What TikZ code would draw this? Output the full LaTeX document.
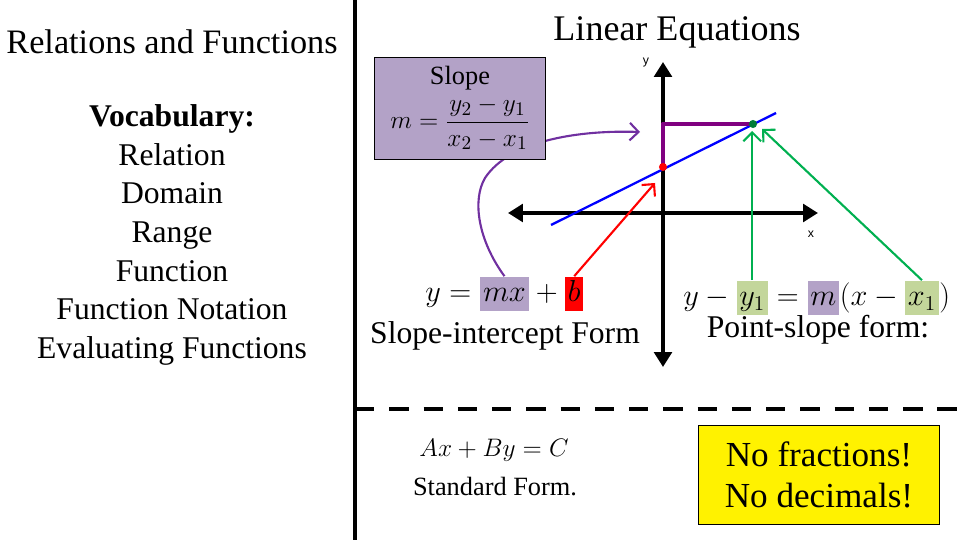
\documentclass[tikz,border=0pt]{standalone}
\usepackage{amsmath}
\usepackage{fontspec}
\setmainfont{Liberation Serif}
\newfontfamily\axisfont{Liberation Sans}
\usetikzlibrary{positioning,arrows.meta,backgrounds}
\definecolor{lavender}{HTML}{B3A2C7}
\definecolor{lightgreen}{HTML}{C3D69B}
\definecolor{slopepurple}{HTML}{7030A0}
\definecolor{anglepurple}{HTML}{800080}
\definecolor{arrowgreen}{HTML}{00B050}
\tikzset{
  txt/.style={inner sep=0pt, font=\fontsize{18}{22}\selectfont},
  eq/.style={inner sep=0pt, font=\fontsize{18}{22}\selectfont, anchor=base west},
  hl/.style={eq, inner xsep=1.5pt, text height=14.5pt, text depth=5pt},
  axis/.style={line width=2.3pt, {Triangle[length=8.5pt,width=10pt]}-{Triangle[length=8.5pt,width=10pt]}},
  pointer/.style={line width=1.2pt, -{Straight Barb[length=5pt,width=10pt]}},
}
\begin{document}
\begin{tikzpicture}[x=0.02cm, y=-0.02cm]
  \useasboundingbox (0,0) rectangle (960,540);
  % frame
  \draw[line width=2.3pt] (355,0) -- (355,540);
  \draw[line width=2.3pt, dash pattern=on 11pt off 8.5pt] (355,409) -- (960,409);
  % left column
  \node[txt, font=\fontsize{19.5}{22}\selectfont] (topic) at (172,42) {Relations and Functions};
  \node[txt, align=center] (vocab) at (172,235)
    {\textbf{Vocabulary:}\\Relation\\Domain\\Range\\Function\\Function Notation\\Evaluating Functions};
  \node[font=\fontsize{20.5}{24}\selectfont] (title) at (677,32) {Linear Equations};
  % graph
  \draw[axis] (663,367) -- (663,62);
  \draw[axis] (508,213) -- (818,213);
  \node[font=\axisfont\fontsize{7}{8}\selectfont] (ylab) at (646,63) {y};
  \node[font=\axisfont\fontsize{7}{8}\selectfont] (xlab) at (811,234) {x};
  \draw[blue, line width=1.3pt] (551,225) -- (776,113);
  \draw[anglepurple, line width=2.8pt, line cap=round, line join=round]
    (663,163) -- (663,124) -- (750,124);
  \coordinate (yint) at (663,167);
  \coordinate (pt) at (753,124);
  \fill[red] (yint) circle (2.3pt);
  \fill[arrowgreen!70!black] (pt) circle (2.3pt);
  \coordinate (redtip) at (655,183);
  \coordinate (gtip1) at (750,131);
  \coordinate (gtip2) at (762,129);
  \coordinate (slopetip) at (640,132);
  % slope box
  \node[draw, fill=lavender, minimum width=97pt, minimum height=58pt, align=center,
    font=\fontsize{15}{17}\selectfont, inner sep=1pt] (slopebox) at (460,108)
    {Slope\\[3pt]$m=\dfrac{y_2-y_1}{x_2-x_1}$};
  % slope-intercept form
  \node[eq] (si0) at (425,302) {$y={}$};
  \node[hl, fill=lavender, base right=0pt of si0] (simx) {$mx$};
  \node[eq, base right=0pt of simx] (si1) {${}+{}$};
  \node[hl, fill=red, base right=0pt of si1] (sib) {$b$};
  \node[txt] (siname) at (505,336) {Slope-intercept Form};
  % point-slope form
  \node[eq] (ps0) at (683,306) {$y-{}$};
  \node[hl, fill=lightgreen, base right=0pt of ps0] (psy) {$y_1$};
  \node[eq, base right=0pt of psy] (ps1) {${}={}$};
  \node[hl, fill=lavender, base right=0pt of ps1] (psm) {$m$};
  \node[eq, base right=0pt of psm] (ps2) {$(x-{}$};
  \node[hl, fill=lightgreen, base right=0pt of ps2] (psx) {$x_1$};
  \node[eq, base right=0pt of psx] (ps3) {$)$};
  \node[txt] (psname) at (818,330) {Point-slope form:};
  % standard form
  \node[font=\fontsize{15}{18}\selectfont] (stdeq) at (494,450) {$Ax+By=C$};
  \node[font=\fontsize{15}{18}\selectfont] (stdname) at (495,487) {Standard Form.};
  \node[draw, fill=yellow, minimum width=137pt, minimum height=56pt, align=center,
    font=\fontsize{20}{23}\selectfont] (nobox) at (819,475) {No fractions!\\No decimals!};
  % pointers
  \begin{scope}[on background layer]
    \draw[pointer, slopepurple] (simx.north) .. controls (478,240) and (472,200) .. (485,178)
      .. controls (510,140) and (580,130) .. (slopetip);
  \end{scope}
  \draw[pointer, red] (sib.north) -- (redtip);
  \draw[pointer, arrowgreen] (psy.north) -- (psy.north |- gtip1);
  \draw[pointer, arrowgreen] (psx.north) -- (gtip2);
\end{tikzpicture}
\end{document}
